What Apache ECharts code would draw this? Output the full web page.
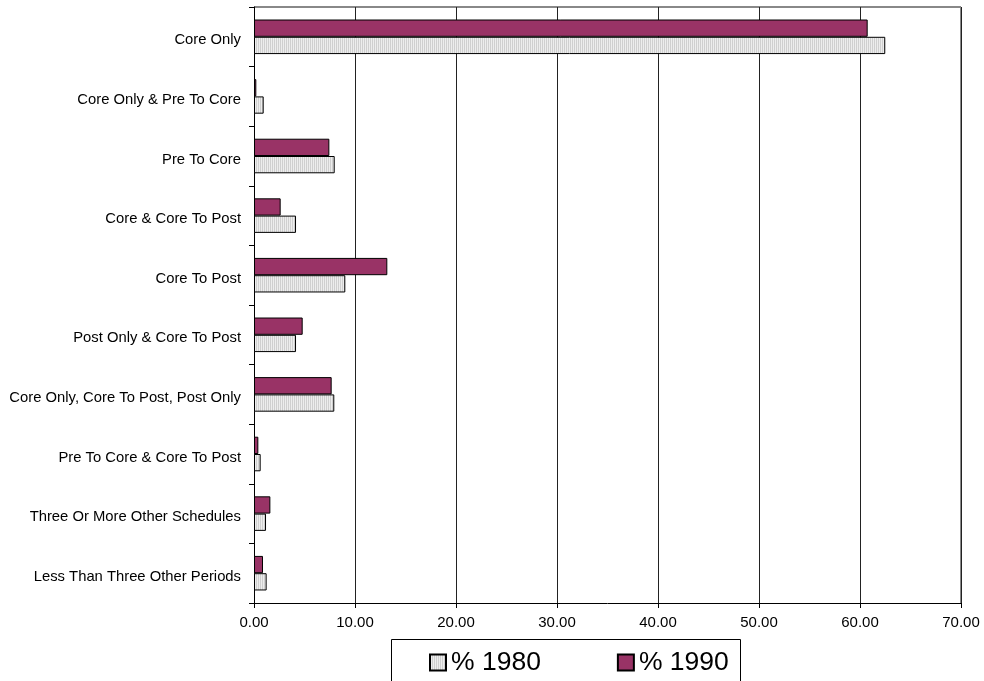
<!DOCTYPE html>
<html>
<head>
<meta charset="utf-8">
<script src="https://cdn.jsdelivr.net/npm/echarts@6/dist/echarts.min.js"></script>
<style>
html,body{margin:0;padding:0;background:#fff;}
#chart{width:984px;height:681px;}
</style>
</head>
<body>
<div id="chart"></div>
<script>
const categories = [
  "Core Only",
  "Core Only & Pre To Core",
  "Pre To Core",
  "Core & Core To Post",
  "Core To Post",
  "Post Only & Core To Post",
  "Core Only, Core To Post, Post Only",
  "Pre To Core & Core To Post",
  "Three Or More Other Schedules",
  "Less Than Three Other Periods"
];
const values1980 = [62.5, 0.96, 7.99, 4.16, 9.04, 4.16, 7.95, 0.66, 1.19, 1.25];
const values1990 = [60.76, 0.23, 7.46, 2.64, 13.2, 4.82, 7.69, 0.43, 1.62, 0.89];
const seriesNames = ["% 1980", "% 1990"];
const xTicks = [0, 10, 20, 30, 40, 50, 60, 70];

const cv = document.createElement('canvas');
cv.width = 2; cv.height = 2;
const cx = cv.getContext('2d');
cx.fillStyle = '#ededed'; cx.fillRect(0, 0, 2, 2);
cx.fillStyle = '#cfcfcf'; cx.fillRect(0, 0, 1, 2);
const pattern1980 = { image: cv, repeat: 'repeat' };

const chart = echarts.init(document.getElementById('chart'), null, { renderer: 'canvas' });
const font = "'Liberation Sans', Arial, sans-serif";
chart.setOption({
  animation: false,
  grid: { left: 254, right: 23, top: 7, bottom: 78, containLabel: false },
  xAxis: {
    type: 'value', min: xTicks[0], max: xTicks[xTicks.length - 1], interval: 10,
    axisLine: { show: true, lineStyle: { color: '#000', width: 1 } },
    axisTick: { show: true, length: 5, lineStyle: { color: '#000' } },
    axisLabel: { color: '#000', fontSize: 15, fontFamily: font, margin: 12,
      formatter: v => v.toFixed(2) },
    splitLine: { show: true, lineStyle: { color: '#222', width: 1 } }
  },
  yAxis: {
    type: 'category', data: categories, inverse: true,
    axisLine: { show: true, lineStyle: { color: '#000', width: 1 } },
    axisTick: { show: true, length: 5, lineStyle: { color: '#000' } },
    axisLabel: { color: '#000', fontSize: 14.8, fontFamily: font, margin: 13,
      formatter: v => '{a|' + v + '}',
      rich: { a: { fontSize: 14.8, fontFamily: font, color: '#000', padding: [7, 0, 0, 0] } } },
    splitLine: { show: false }
  },
  legend: {
    data: seriesNames, left: 429, top: 649, padding: 0, itemWidth: 16, itemHeight: 16, itemGap: 76,
    icon: 'rect',
    textStyle: { fontSize: 26.5, fontFamily: font, color: '#000', lineHeight: 26 }
  },
  graphic: [
    { type: 'rect', shape: { x: 391.5, y: 639.5, width: 349, height: 60 },
      style: { fill: 'none', stroke: '#000', lineWidth: 1 }, z: 1 },
    { type: 'line', shape: { x1: 254, y1: 7, x2: 961, y2: 7 },
      style: { stroke: '#888', lineWidth: 2 }, z: 0 },
    { type: 'line', shape: { x1: 961, y1: 7, x2: 961, y2: 603 },
      style: { stroke: '#888', lineWidth: 2 }, z: 0 }
  ],
  series: [
    { name: seriesNames[1], type: 'bar', data: values1990, barCategoryGap: '42%', barGap: '0%',
      itemStyle: { color: '#993366', borderColor: '#000', borderWidth: 1 } },
    { name: seriesNames[0], type: 'bar', data: values1980, barCategoryGap: '42%', barGap: '0%',
      itemStyle: { color: pattern1980, borderColor: '#000', borderWidth: 1 } }
  ]
});
</script>
</body>
</html>
